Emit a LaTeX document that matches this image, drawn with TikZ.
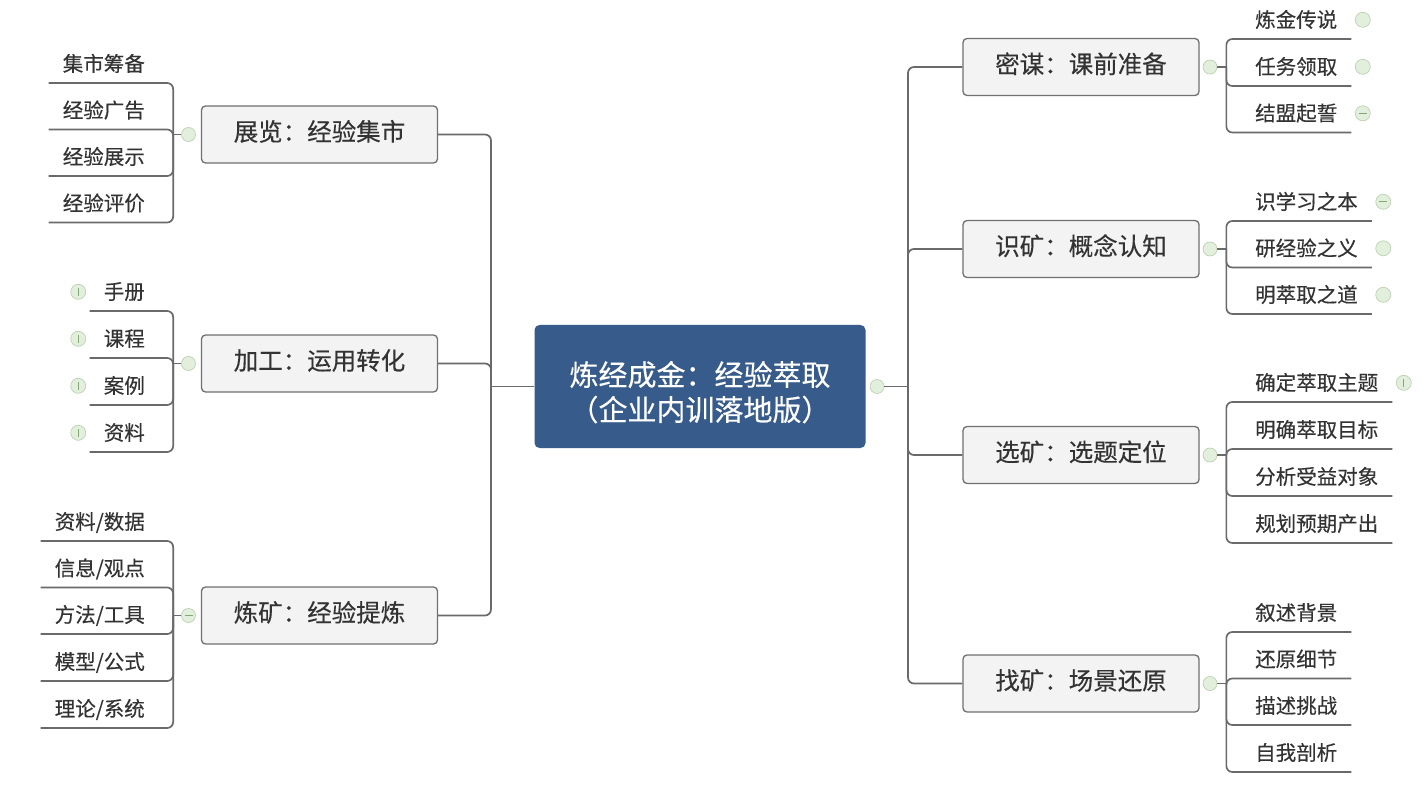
\documentclass[tikz,border=0pt]{standalone}
\usepackage{fontspec}
\setmainfont{Noto Sans CJK SC}[FakeBold=0.3]
\usetikzlibrary{positioning}
\definecolor{rootblue}{HTML}{375B8A}
\definecolor{boxgray}{HTML}{F3F3F3}
\definecolor{rimgray}{HTML}{707070}
\definecolor{linegray}{HTML}{6A6A6A}
\definecolor{textgray}{HTML}{333333}
\definecolor{dotgreen}{HTML}{E3EFDD}
\definecolor{dotrim}{HTML}{BCD2B3}
\definecolor{markgreen}{HTML}{86A878}

\tikzset{
  conn/.style={draw=linegray, line width=1.7pt},
  elbow/.style={conn, rounded corners=6pt},
  rootbox/.style={fill=rootblue, rounded corners=5pt, minimum width=331pt, minimum height=123pt,
    align=center, text=white, font=\fontsize{29}{35}\selectfont},
  topic/.style={draw=rimgray, line width=1.3pt, fill=boxgray, rounded corners=4pt,
    minimum width=236pt, minimum height=57pt, text height=1.25em, text depth=0pt,
    text=textgray, font=\fontsize{24.5}{29}\selectfont},
  leaf/.style={inner xsep=14pt, inner ysep=0pt, minimum height=38pt, text height=1.5em,
    text depth=0pt, text=textgray, font=\fontsize{20.5}{24}\selectfont},
  knob/.style={circle, minimum size=14pt, inner sep=0pt, fill=dotgreen, draw=dotrim, line width=0.7pt},
  minusknob/.style={knob, path picture={\draw[markgreen, line width=1pt]
    ([xshift=-4pt]path picture bounding box.center) -- ([xshift=4pt]path picture bounding box.center);}},
  infoknob/.style={knob, path picture={\draw[markgreen, line width=1pt]
    ([yshift=-4pt]path picture bounding box.center) -- ([yshift=4pt]path picture bounding box.center);}},
}

\begin{document}
\begin{tikzpicture}[x=1pt, y=-1pt]
\useasboundingbox[fill=white] (0,0) rectangle (1426,791);

% centre
\node[rootbox] (gold) at (700,386.5) {\rule{0pt}{36pt}炼经成金：经验萃取\\（企业内训落地版）};
\node[knob, right=4pt of gold] (golddot) {};

% main topics
\node[topic] (expo) at (319.5,134.5) {展览：经验集市};
\node[topic] (craft) at (319.5,363.5) {加工：运用转化};
\node[topic] (smelt) at (319.5,615.5) {炼矿：经验提炼};
\node[topic] (plot) at (1081,67) {密谋：课前准备};
\node[topic] (know) at (1081,249) {识矿：概念认知};
\node[topic] (pick) at (1081,455) {选矿：选题定位};
\node[topic] (find) at (1081,683.5) {找矿：场景还原};

\node[knob, left=5pt of expo] (expodot) {};
\node[knob, left=5pt of craft] (craftdot) {};
\node[minusknob, left=5pt of smelt] (smeltdot) {};
\node[knob, right=3pt of plot] (plotdot) {};
\node[knob, right=3pt of know] (knowdot) {};
\node[knob, right=3pt of pick] (pickdot) {};
\node[knob, right=3pt of find] (finddot) {};

% trunks
\coordinate (ltrunk) at (491,386.5);
\coordinate (rtrunk) at (908,386.5);
\draw[conn] (gold.west) -- (ltrunk);
\draw[conn] (golddot.east) -- (rtrunk);
\draw[elbow] (ltrunk) |- (expo.east);
\draw[elbow] (ltrunk) |- (craft.east);
\draw[elbow] (ltrunk) |- (smelt.east);
\draw[elbow] (rtrunk) |- (plot.west);
\draw[elbow] (rtrunk) |- (know.west);
\draw[elbow] (rtrunk) |- (pick.west);
\draw[elbow] (rtrunk) |- (find.west);

% leaf junctions
\coordinate[left=8pt of expodot] (expoj);
\coordinate[left=8pt of craftdot] (craftj);
\coordinate[left=8pt of smeltdot] (smeltj);
\coordinate[right=9pt of plotdot] (plotj);
\coordinate[right=9pt of knowdot] (knowj);
\coordinate[right=9pt of pickdot] (pickj);
\coordinate[right=9pt of finddot] (findj);
\draw[conn] (expodot.west) -- (expoj);
\draw[conn] (craftdot.west) -- (craftj);
\draw[conn] (smeltdot.west) -- (smeltj);
\draw[conn] (plotdot.east) -- (plotj);
\draw[conn] (knowdot.east) -- (knowj);
\draw[conn] (pickdot.east) -- (pickj);
\draw[conn] (finddot.east) -- (findj);

% left leaves
\node[leaf, anchor=south east] (expo1) at (159,83) {集市筹备};
\node[leaf, anchor=south east] (expo2) at (159,129.5) {经验广告};
\node[leaf, anchor=south east] (expo3) at (159,176) {经验展示};
\node[leaf, anchor=south east] (expo4) at (159,222.5) {经验评价};
\draw[elbow] (expoj) |- (expo1.south west);
\draw[elbow] (expoj) |- (expo2.south west);
\draw[elbow] (expoj) |- (expo3.south west);
\draw[elbow] (expoj) |- (expo4.south west);

\node[leaf, anchor=south east] (craft1) at (159,311) {手册};
\node[leaf, anchor=south east] (craft2) at (159,358) {课程};
\node[leaf, anchor=south east] (craft3) at (159,405) {案例};
\node[leaf, anchor=south east] (craft4) at (159,452) {资料};
\node[infoknob, minimum size=15pt, left=3.5pt of craft1] (craft1i) {};
\node[infoknob, minimum size=15pt, left=3.5pt of craft2] (craft2i) {};
\node[infoknob, minimum size=15pt, left=3.5pt of craft3] (craft3i) {};
\node[infoknob, minimum size=15pt, left=3.5pt of craft4] (craft4i) {};
\draw[elbow] (craftj) |- (craft1.south west);
\draw[elbow] (craftj) |- (craft2.south west);
\draw[elbow] (craftj) |- (craft3.south west);
\draw[elbow] (craftj) |- (craft4.south west);

\node[leaf, anchor=south east] (smelt1) at (159,541) {资料/数据};
\node[leaf, anchor=south east] (smelt2) at (159,587.5) {信息/观点};
\node[leaf, anchor=south east] (smelt3) at (159,634) {方法/工具};
\node[leaf, anchor=south east] (smelt4) at (159,681) {模型/公式};
\node[leaf, anchor=south east] (smelt5) at (159,728) {理论/系统};
\draw[elbow] (smeltj) |- (smelt1.south west);
\draw[elbow] (smeltj) |- (smelt2.south west);
\draw[elbow] (smeltj) |- (smelt3.south west);
\draw[elbow] (smeltj) |- (smelt4.south west);
\draw[elbow] (smeltj) |- (smelt5.south west);

% right leaves
\node[leaf, anchor=south west] (plot1) at (1241,39) {炼金传说};
\node[leaf, anchor=south west] (plot2) at (1241,86) {任务领取};
\node[leaf, anchor=south west] (plot3) at (1241,132.5) {结盟起誓};
\node[knob, minimum size=15pt, right=3.5pt of plot1] (plot1i) {};
\node[knob, minimum size=15pt, right=3.5pt of plot2] (plot2i) {};
\node[minusknob, minimum size=15pt, right=3.5pt of plot3] (plot3i) {};
\draw[elbow] (plotj) |- (plot1.south east);
\draw[elbow] (plotj) |- (plot2.south east);
\draw[elbow] (plotj) |- (plot3.south east);

\node[leaf, anchor=south west] (know1) at (1241,221) {识学习之本};
\node[leaf, anchor=south west] (know2) at (1241,267.5) {研经验之义};
\node[leaf, anchor=south west] (know3) at (1241,314) {明萃取之道};
\node[minusknob, minimum size=15pt, right=3.5pt of know1] (know1i) {};
\node[knob, minimum size=15pt, right=3.5pt of know2] (know2i) {};
\node[knob, minimum size=15pt, right=3.5pt of know3] (know3i) {};
\draw[elbow] (knowj) |- (know1.south east);
\draw[elbow] (knowj) |- (know2.south east);
\draw[elbow] (knowj) |- (know3.south east);

\node[leaf, anchor=south west] (pick1) at (1241,402) {确定萃取主题};
\node[leaf, anchor=south west] (pick2) at (1241,449) {明确萃取目标};
\node[leaf, anchor=south west] (pick3) at (1241,496) {分析受益对象};
\node[leaf, anchor=south west] (pick4) at (1241,543) {规划预期产出};
\node[infoknob, minimum size=15pt, right=3.5pt of pick1] (pick1i) {};
\draw[elbow] (pickj) |- (pick1.south east);
\draw[elbow] (pickj) |- (pick2.south east);
\draw[elbow] (pickj) |- (pick3.south east);
\draw[elbow] (pickj) |- (pick4.south east);

\node[leaf, anchor=south west] (find1) at (1241,632) {叙述背景};
\node[leaf, anchor=south west] (find2) at (1241,678.5) {还原细节};
\node[leaf, anchor=south west] (find3) at (1241,725) {描述挑战};
\node[leaf, anchor=south west] (find4) at (1241,772) {自我剖析};
\draw[elbow] (findj) |- (find1.south east);
\draw[elbow] (findj) |- (find2.south east);
\draw[elbow] (findj) |- (find3.south east);
\draw[elbow] (findj) |- (find4.south east);
\end{tikzpicture}
\end{document}
